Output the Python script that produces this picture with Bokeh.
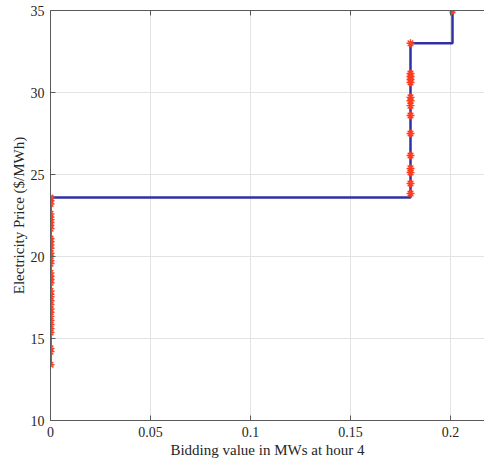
from bokeh.plotting import figure
from bokeh.models import LinearAxis, FixedTicker, Range1d
from bokeh.embed import file_html
from bokeh.resources import INLINE

# Bid curve for hour 4: bidding quantity (MW) at each electricity price ($/MWh)
low_prices = [13.4, 14.2, 14.4, 15.37, 15.6, 15.85, 16.1, 16.35, 16.6, 16.8,
              17.07, 17.3, 17.55, 17.7, 17.9, 18.4, 18.6, 18.8, 19.0, 19.57,
              19.75, 20.0, 20.2, 20.5, 20.7, 20.9, 21.1, 21.7, 21.9, 22.07,
              22.25, 22.4, 22.6, 23.2, 23.4, 23.6]
low_bids = [0.0] * len(low_prices)

mid_prices = [23.84, 24.45, 25.12, 25.37, 26.16, 27.5, 28.6, 29.2, 29.5,
              29.7, 30.61, 30.79, 30.98, 31.16, 33.0]
mid_bids = [0.18] * len(mid_prices)

top_prices = [35.0]
top_bids = [0.201]

prices = low_prices + mid_prices + top_prices
bids = low_bids + mid_bids + top_bids

x_ticks = [0, 0.05, 0.1, 0.15, 0.2]
x_tick_labels = ["0", "0.05", "0.1", "0.15", "0.2"]
y_ticks = [10, 15, 20, 25, 30, 35]

# Staircase path: keep the price, move to the next bid, then climb to the next price
step_x = [bids[0]]
step_y = [prices[0]]
for i in range(1, len(prices)):
    step_x.append(bids[i])
    step_y.append(prices[i - 1])
    step_x.append(bids[i])
    step_y.append(prices[i])

FONT = "Liberation Serif"
AXIS_GREY = "#5a5a5a"

p = figure(width=484, height=465, output_backend="svg", toolbar_location=None,
           x_range=Range1d(0, 0.217), y_range=Range1d(10, 35),
           min_border_left=50, min_border_right=0, min_border_top=10,
           min_border_bottom=45)
p.background_fill_color = "white"
p.border_fill_color = "white"
p.outline_line_color = None

p.line(step_x, step_y, line_color="#3030a4", line_width=2.5)
p.scatter(bids, prices, marker="asterisk", size=8, line_color="#ff3b1f",
          line_width=1.4)

for ax in (p.xaxis[0], p.yaxis[0]):
    ax.axis_line_color = AXIS_GREY
    ax.major_tick_line_color = AXIS_GREY
    ax.major_tick_in = 5
    ax.major_tick_out = 0
    ax.minor_tick_line_color = None
    ax.major_label_text_font = FONT
    ax.major_label_text_font_size = "14px"
    ax.major_label_text_color = "#262626"
    ax.axis_label_text_font = FONT
    ax.axis_label_text_font_size = "15px"
    ax.axis_label_text_font_style = "normal"
    ax.axis_label_text_color = "#262626"

p.xaxis.ticker = FixedTicker(ticks=x_ticks)
p.xaxis.major_label_overrides = {t: s for t, s in zip(x_ticks, x_tick_labels)}
p.yaxis.ticker = FixedTicker(ticks=y_ticks)
p.xaxis.axis_label = "Bidding value in MWs at hour 4"
p.yaxis.axis_label = "Electricity Price ($/MWh)"
p.xaxis.major_label_standoff = 6
p.yaxis.major_label_standoff = 6
p.xaxis.axis_label_standoff = 2
p.yaxis.axis_label_standoff = 1

# Box edge along the top, its inward ticks drawn as unlabeled minor ticks
top = LinearAxis(ticker=FixedTicker(ticks=[], minor_ticks=x_ticks),
                 axis_line_color=AXIS_GREY, major_tick_line_color=None,
                 minor_tick_line_color=AXIS_GREY, minor_tick_in=5,
                 minor_tick_out=0, major_label_standoff=0)
p.add_layout(top, "above")

p.xgrid.ticker = FixedTicker(ticks=x_ticks)
p.ygrid.ticker = FixedTicker(ticks=y_ticks)
p.grid.grid_line_color = "#e3e3e3"
p.grid.grid_line_width = 1

open("out.html", "w").write(file_html(p, INLINE))
